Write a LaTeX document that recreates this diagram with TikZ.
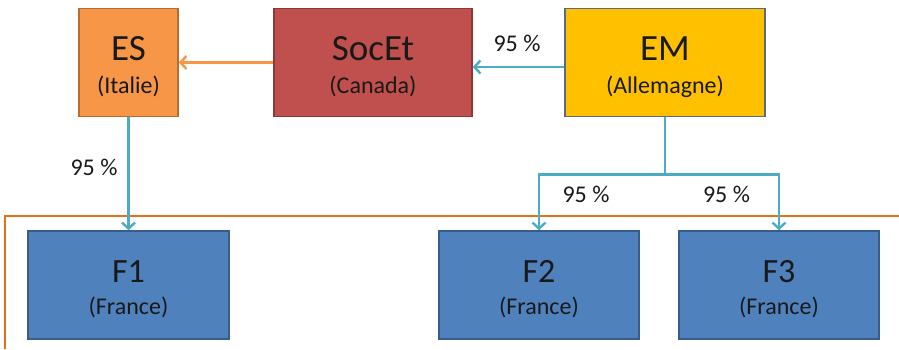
\documentclass[tikz,border=0pt]{standalone}
\usepackage{fontspec}
\setmainfont{Carlito}
\usetikzlibrary{arrows.meta,calc}

\definecolor{esfill}{RGB}{247,150,70}
\definecolor{esline}{RGB}{182,109,49}
\definecolor{socfill}{RGB}{192,80,77}
\definecolor{socline}{RGB}{140,56,54}
\definecolor{emfill}{RGB}{255,192,0}
\definecolor{emline}{RGB}{90,107,128}
\definecolor{ffill}{RGB}{79,129,189}
\definecolor{fline}{RGB}{56,93,138}
\definecolor{link}{RGB}{75,172,198}
\definecolor{frameline}{RGB}{232,112,20}
\definecolor{ink}{RGB}{25,25,25}

\tikzset{
  x=1pt, y=-1pt,
  box/.style={draw, line width=1.6pt, minimum height=108pt, inner sep=0pt},
  title/.style={anchor=base, inner sep=0pt, text=ink, font=\fontsize{37}{40}\selectfont},
  ftitle/.style={anchor=base, inner sep=0pt, text=ink, font=\fontsize{34}{38}\selectfont},
  sub/.style={anchor=base, inner sep=0pt, text=ink, font=\fontsize{24}{28}\selectfont},
  pct/.style={inner sep=0pt, text=ink, font=\fontsize{24}{28}\selectfont},
  own/.style={draw=link, line width=2.4pt, -{Straight Barb[length=6pt,width=13pt]}},
  ownplain/.style={draw=link, line width=2.4pt},
  ctrl/.style={draw=esfill, line width=2.4pt, -{Straight Barb[length=6pt,width=13pt]}},
  frame/.style={draw=frameline, line width=2.2pt},
}

\begin{document}
\begin{tikzpicture}
  \fill[white] (0,0) rectangle (899,349);
  \useasboundingbox (0,0) rectangle (899,349);

  % French perimeter
  \draw[frame] (899,216) -- (5,216) -- (5,349);

  % upper row
  \node[box, fill=esfill, draw=esline, minimum width=99pt] (ES) at (128.5,62.5) {};
  \node[title] (ES-t) at ($(ES.center)+(0,-2.5)$) {ES};
  \node[sub] (ES-s) at ($(ES.center)+(0,30.5)$) {(Italie)};

  \node[box, fill=socfill, draw=socline, minimum width=198pt] (SOC) at (373,62.5) {};
  \node[title] (SOC-t) at ($(SOC.center)+(0,-2.5)$) {SocEt};
  \node[sub] (SOC-s) at ($(SOC.center)+(0,30.5)$) {(Canada)};

  \node[box, fill=emfill, draw=emline, minimum width=200pt] (EM) at (665,62.5) {};
  \node[title] (EM-t) at ($(EM.center)+(0,-2.5)$) {EM};
  \node[sub] (EM-s) at ($(EM.center)+(0,30.5)$) {(Allemagne)};

  % French subsidiaries
  \node[box, fill=ffill, draw=fline, minimum width=201pt] (F1) at (128.5,285) {};
  \node[ftitle] (F1-t) at ($(F1.center)+(0,-3)$) {F1};
  \node[sub] (F1-s) at ($(F1.center)+(0,29)$) {(France)};

  \node[box, fill=ffill, draw=fline, minimum width=200pt] (F2) at (539,285) {};
  \node[ftitle] (F2-t) at ($(F2.center)+(0,-3)$) {F2};
  \node[sub] (F2-s) at ($(F2.center)+(0,29)$) {(France)};

  \node[box, fill=ffill, draw=fline, minimum width=200pt] (F3) at (779,285) {};
  \node[ftitle] (F3-t) at ($(F3.center)+(0,-3)$) {F3};
  \node[sub] (F3-s) at ($(F3.center)+(0,29)$) {(France)};

  % links
  \draw[ctrl] (SOC.west) -- (ES.east);
  \draw[own] ($(EM.west)+(0,4.5)$) -- ($(SOC.east)+(0,4.5)$);
  \draw[own] (ES.south) -- (F1.north);

  \coordinate (split) at ($(EM.south)+(0,57)$);
  \draw[ownplain] (EM.south) -- (split);
  \draw[own] (split) -| (F2.north);
  \draw[own] (split) -| (F3.north);

  % holding percentages
  \node[pct] (p-soc) at (517,43.5) {95 \%};
  \node[pct] (p-f1) at (94,167.5) {95 \%};
  \node[pct] (p-f2) at (586,194.5) {95 \%};
  \node[pct] (p-f3) at (726.5,194.5) {95 \%};
\end{tikzpicture}
\end{document}
